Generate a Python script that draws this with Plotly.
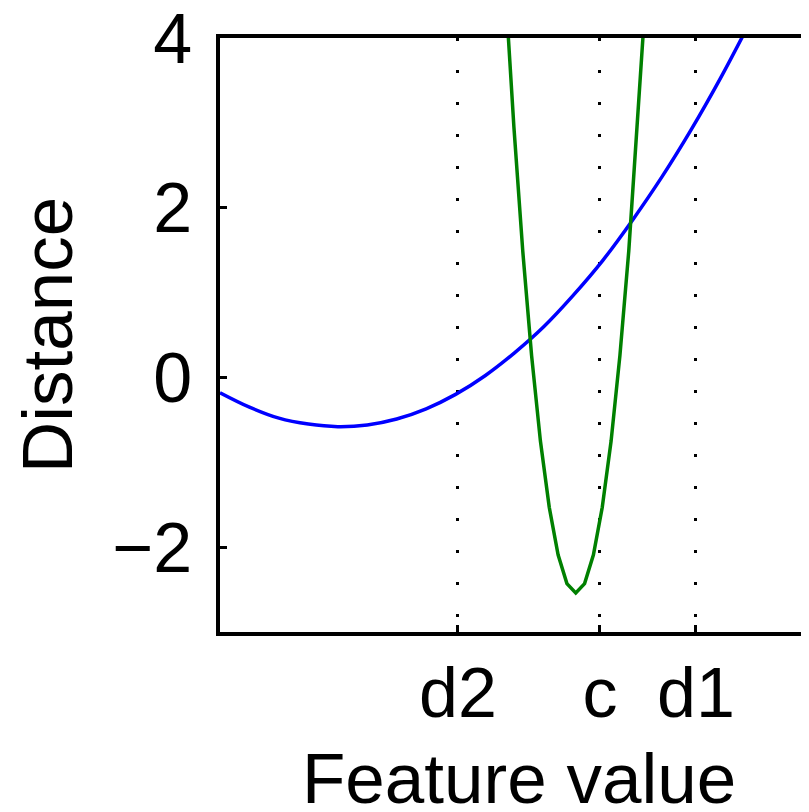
import plotly.graph_objects as go

# Tick positions / labels on the feature axis
x_tick_vals = [4.04, 6.45, 8.08]
x_tick_text = ["d2", "c", "d1"]
y_tick_vals = [-2, 0, 2, 4]
x_title = "Feature value"
y_title = "Distance"

# Blue curve
blue_x = [0.0, 0.5, 1.0, 1.5, 2.0, 2.5, 3.0, 3.5, 4.0, 4.5, 5.0, 5.5, 6.0, 6.5, 7.0, 7.5, 8.0, 8.5, 9.0]
blue_y = [-0.18, -0.35, -0.48, -0.55, -0.58, -0.56, -0.49, -0.37, -0.20, 0.02, 0.29, 0.60, 0.97, 1.38, 1.85, 2.36, 2.92, 3.53, 4.19]

# Green curve
green_x = [4.84, 4.99, 5.14, 5.29, 5.44, 5.59, 5.74, 5.89, 6.04, 6.19, 6.34, 6.49, 6.64, 6.79, 6.94, 7.09, 7.24]
green_y = [4.63, 2.95, 1.49, 0.26, -0.75, -1.53, -2.09, -2.43, -2.54, -2.43, -2.09, -1.53, -0.75, 0.26, 1.49, 2.95, 4.63]

FONT = "Liberation Sans, Arial, sans-serif"

fig = go.Figure()
fig.add_trace(go.Scatter(x=blue_x, y=blue_y, mode="lines", line=dict(color="rgb(0,0,255)", width=3.5, shape="spline"),
                         showlegend=False, hoverinfo="skip"))
fig.add_trace(go.Scatter(x=green_x, y=green_y, mode="lines", line=dict(color="rgb(0,128,0)", width=3.5),
                         showlegend=False, hoverinfo="skip"))

fig.add_annotation(text=x_title, xref="paper", yref="paper", x=0.507, y=0,
                   xanchor="center", yanchor="top", yshift=-105, showarrow=False,
                   font=dict(family=FONT, size=71, color="black"))

fig.update_layout(
    width=801, height=804,
    margin=dict(l=212, r=0, t=30, b=180, autoexpand=False),
    paper_bgcolor="white", plot_bgcolor="white",
    font=dict(family=FONT, size=70, color="black"),
    xaxis=dict(
        range=[0, 10], tickmode="array", tickvals=x_tick_vals, ticktext=x_tick_text,
        showline=True, linecolor="black", linewidth=3.5, mirror=True,
        ticks="inside", ticklen=7, tickwidth=2.5, tickcolor="black",
        showgrid=True, gridcolor="black", gridwidth=3, griddash="3px,29px",
        zeroline=False, ticklabelstandoff=-3, automargin=False, ticklabeloverflow="allow",
        tickfont=dict(size=70),
    ),
    yaxis=dict(
        range=[-3, 4], tickmode="array", tickvals=y_tick_vals,
        showline=True, linecolor="black", linewidth=3.5, mirror=False,
        ticks="inside", ticklen=7, tickwidth=2.5, tickcolor="black",
        showgrid=False, zeroline=False, ticklabelstandoff=10, automargin=False, ticklabeloverflow="allow",
        title=dict(text=y_title, standoff=29, font=dict(size=71)),
        tickfont=dict(size=70),
    ),
)

fig.write_html("out.html")
